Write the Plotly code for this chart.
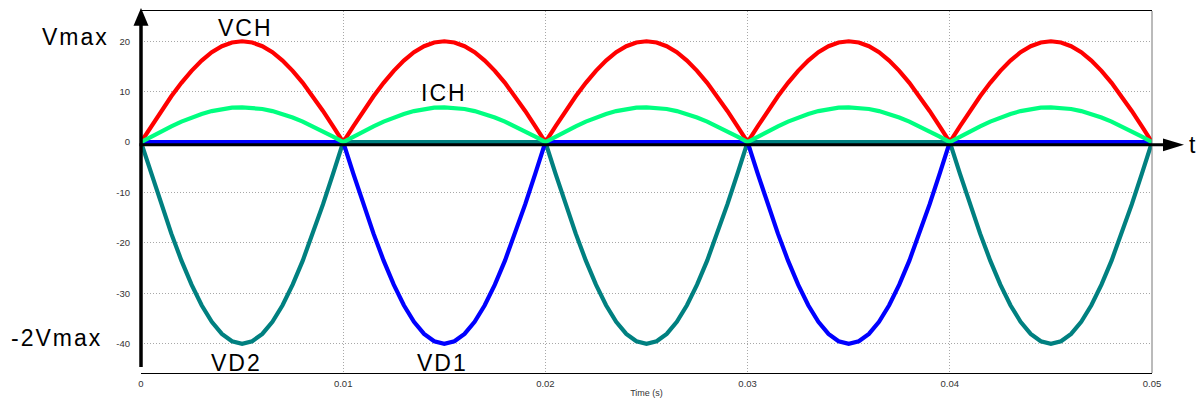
import plotly.graph_objects as go

# ---- data ----
TIME_MS = [0, 0.5, 1, 1.5, 2, 2.5, 3, 3.5, 4, 4.5, 5, 5.5, 6, 6.5, 7, 7.5, 8, 8.5, 9, 9.5,
           10, 10.5, 11, 11.5, 12, 12.5, 13, 13.5, 14, 14.5, 15, 15.5, 16, 16.5, 17, 17.5, 18, 18.5, 19, 19.5,
           20, 20.5, 21, 21.5, 22, 22.5, 23, 23.5, 24, 24.5, 25, 25.5, 26, 26.5, 27, 27.5, 28, 28.5, 29, 29.5,
           30, 30.5, 31, 31.5, 32, 32.5, 33, 33.5, 34, 34.5, 35, 35.5, 36, 36.5, 37, 37.5, 38, 38.5, 39, 39.5,
           40, 40.5, 41, 41.5, 42, 42.5, 43, 43.5, 44, 44.5, 45, 45.5, 46, 46.5, 47, 47.5, 48, 48.5, 49, 49.5,
           50]

VCH = [0, 3.13, 6.18, 9.08, 11.76, 14.14, 16.18, 17.82, 19.02, 19.75, 20, 19.75, 19.02, 17.82, 16.18, 14.14, 11.76, 9.08, 6.18, 3.13,
       0, 3.13, 6.18, 9.08, 11.76, 14.14, 16.18, 17.82, 19.02, 19.75, 20, 19.75, 19.02, 17.82, 16.18, 14.14, 11.76, 9.08, 6.18, 3.13,
       0, 3.13, 6.18, 9.08, 11.76, 14.14, 16.18, 17.82, 19.02, 19.75, 20, 19.75, 19.02, 17.82, 16.18, 14.14, 11.76, 9.08, 6.18, 3.13,
       0, 3.13, 6.18, 9.08, 11.76, 14.14, 16.18, 17.82, 19.02, 19.75, 20, 19.75, 19.02, 17.82, 16.18, 14.14, 11.76, 9.08, 6.18, 3.13,
       0, 3.13, 6.18, 9.08, 11.76, 14.14, 16.18, 17.82, 19.02, 19.75, 20, 19.75, 19.02, 17.82, 16.18, 14.14, 11.76, 9.08, 6.18, 3.13,
       0]

ICH = [0, 1.08, 2.13, 3.13, 4.06, 4.88, 5.58, 6.15, 6.56, 6.82, 6.9, 6.82, 6.56, 6.15, 5.58, 4.88, 4.06, 3.13, 2.13, 1.08,
       0, 1.08, 2.13, 3.13, 4.06, 4.88, 5.58, 6.15, 6.56, 6.82, 6.9, 6.82, 6.56, 6.15, 5.58, 4.88, 4.06, 3.13, 2.13, 1.08,
       0, 1.08, 2.13, 3.13, 4.06, 4.88, 5.58, 6.15, 6.56, 6.82, 6.9, 6.82, 6.56, 6.15, 5.58, 4.88, 4.06, 3.13, 2.13, 1.08,
       0, 1.08, 2.13, 3.13, 4.06, 4.88, 5.58, 6.15, 6.56, 6.82, 6.9, 6.82, 6.56, 6.15, 5.58, 4.88, 4.06, 3.13, 2.13, 1.08,
       0, 1.08, 2.13, 3.13, 4.06, 4.88, 5.58, 6.15, 6.56, 6.82, 6.9, 6.82, 6.56, 6.15, 5.58, 4.88, 4.06, 3.13, 2.13, 1.08,
       0]

VD1 = [0, 0, 0, 0, 0, 0, 0, 0, 0, 0, 0, 0, 0, 0, 0, 0, 0, 0, 0, 0,
       0, -6.26, -12.36, -18.16, -23.51, -28.28, -32.36, -35.64, -38.04, -39.51, -40, -39.51, -38.04, -35.64, -32.36, -28.28, -23.51, -18.16, -12.36, -6.26,
       0, 0, 0, 0, 0, 0, 0, 0, 0, 0, 0, 0, 0, 0, 0, 0, 0, 0, 0, 0,
       0, -6.26, -12.36, -18.16, -23.51, -28.28, -32.36, -35.64, -38.04, -39.51, -40, -39.51, -38.04, -35.64, -32.36, -28.28, -23.51, -18.16, -12.36, -6.26,
       0, 0, 0, 0, 0, 0, 0, 0, 0, 0, 0, 0, 0, 0, 0, 0, 0, 0, 0, 0,
       0]

VD2 = [0, -6.26, -12.36, -18.16, -23.51, -28.28, -32.36, -35.64, -38.04, -39.51, -40, -39.51, -38.04, -35.64, -32.36, -28.28, -23.51, -18.16, -12.36, -6.26,
       0, 0, 0, 0, 0, 0, 0, 0, 0, 0, 0, 0, 0, 0, 0, 0, 0, 0, 0, 0,
       0, -6.26, -12.36, -18.16, -23.51, -28.28, -32.36, -35.64, -38.04, -39.51, -40, -39.51, -38.04, -35.64, -32.36, -28.28, -23.51, -18.16, -12.36, -6.26,
       0, 0, 0, 0, 0, 0, 0, 0, 0, 0, 0, 0, 0, 0, 0, 0, 0, 0, 0, 0,
       0, -6.26, -12.36, -18.16, -23.51, -28.28, -32.36, -35.64, -38.04, -39.51, -40, -39.51, -38.04, -35.64, -32.36, -28.28, -23.51, -18.16, -12.36, -6.26,
       0]

X_TICKS = [0, 0.01, 0.02, 0.03, 0.04, 0.05]
X_TICK_TEXT = ["0", "0.01", "0.02", "0.03", "0.04", "0.05"]
Y_TICKS = [20, 10, 0, -10, -20, -30, -40]
Y_TICK_TEXT = ["20", "10", "0", "-10", "-20", "-30", "-40"]

# ---- layout geometry (pixels) ----
W, H = 1199, 407
L, R, T, B = 141, 47, 10, 29
PW = W - L - R
PH = H - T - B


def px(x):
    return (x - L) / PW


def py(y):
    return (H - B - y) / PH


time_s = [t / 1000 for t in TIME_MS]
FONT = "Liberation Sans, Arial, sans-serif"

fig = go.Figure()
for name, ys, col in [("VD2", VD2, "#008080"), ("VD1", VD1, "#0000FF"),
                      ("VCH", VCH, "#FF0000"), ("ICH", ICH, "#00FF80")]:
    fig.add_trace(go.Scatter(x=time_s, y=ys, mode="lines", name=name,
                             line=dict(color=col, width=4.2),
                             hoverinfo="skip", showlegend=False))

grid = dict(showgrid=True, gridcolor="#a8a8a8", griddash="1px,2px", gridwidth=1,
            zeroline=False, ticks="",
            tickfont=dict(family=FONT, size=9.5, color="#333333"))

fig.update_layout(
    width=W, height=H,
    margin=dict(l=L, r=R, t=T, b=B, pad=0),
    paper_bgcolor="white", plot_bgcolor="white",
    xaxis=dict(range=[0, 0.05], tickvals=X_TICKS, ticktext=X_TICK_TEXT,
               showline=True, linecolor="black", linewidth=1, mirror=True,
               ticklabelstandoff=2,
               title=dict(text="Time (s)", font=dict(family=FONT, size=9, color="#333333"),
                          standoff=1),
               **grid),
    yaxis=dict(range=[-45.8, 26.0], tickvals=Y_TICKS, ticktext=Y_TICK_TEXT,
               showline=False, ticklabelstandoff=10, **grid),
)

shapes = [
    # right border
    dict(type="line", xref="paper", yref="paper", x0=px(1152), x1=px(1152), y0=0, y1=1,
         line=dict(color="#777777", width=1)),
    # thick vertical axis
    dict(type="line", xref="paper", yref="paper", x0=px(141), x1=px(141), y0=py(372), y1=py(22),
         line=dict(color="black", width=3.5)),
    # vertical arrowhead
    dict(type="path", xref="paper", yref="paper",
         path=f"M {px(141)},{py(7)} L {px(133.5)},{py(25)} L {px(148.5)},{py(25)} Z",
         fillcolor="black", line=dict(color="black", width=0)),
    # thick horizontal axis
    dict(type="line", xref="paper", yref="paper", x0=px(139.5), x1=px(1166), y0=py(146), y1=py(146),
         line=dict(color="black", width=3)),
    # horizontal arrowhead
    dict(type="path", xref="paper", yref="paper",
         path=f"M {px(1184)},{py(146)} L {px(1163)},{py(139.5)} L {px(1163)},{py(152.5)} Z",
         fillcolor="black", line=dict(color="black", width=0)),
]
fig.update_layout(shapes=shapes)

labels = [("Vmax", 75, 36), ("-2Vmax", 56, 342), ("VCH", 245, 27), ("ICH", 444, 93),
          ("VD2", 236, 368), ("VD1", 442, 368), ("t", 1193, 146)]
for txt, x, y in labels:
    fig.add_annotation(text=f'<span style="letter-spacing:2px">{txt}</span>',
                       xref="paper", yref="paper", x=px(x), y=py(y),
                       xanchor="center", yanchor="middle", showarrow=False,
                       font=dict(family=FONT, size=23, color="black"))

fig.write_html("out.html")
